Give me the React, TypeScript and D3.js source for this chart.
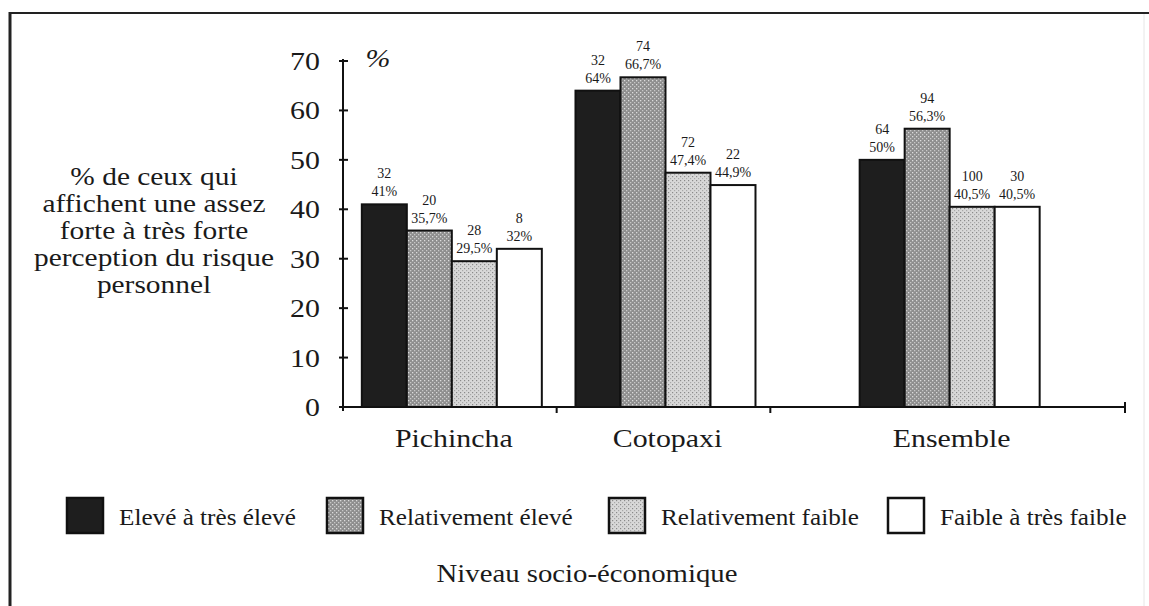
import { useEffect, useRef } from 'react'
import * as d3 from 'd3'

const regions = ['Pichincha', 'Cotopaxi', 'Ensemble']
const levels = ['Elevé à très élevé', 'Relativement élevé', 'Relativement faible', 'Faible à très faible']

// percentages, in region order
const pctEleve = [41, 64, 50]
const pctRelEleve = [35.7, 66.7, 56.3]
const pctRelFaible = [29.5, 47.4, 40.5]
const pctFaible = [32, 44.9, 40.5]

// counts printed above the percentages
const nEleve = [32, 32, 64]
const nRelEleve = [20, 74, 94]
const nRelFaible = [28, 72, 100]
const nFaible = [8, 22, 30]

const yTicks = [0, 10, 20, 30, 40, 50, 60, 70]
const yTitle = ['% de ceux qui', 'affichent une assez', 'forte à très forte', 'perception du risque', 'personnel']
const xTitle = 'Niveau socio-économique'

const W = 1149
const H = 606
const SERIF = '"Liberation Serif", "Times New Roman", serif'
// the scanned type is a bit wider than Times
const STRETCH = 1.15

export default function App() {
  const svgRef = useRef<SVGSVGElement>(null)

  useEffect(() => {
    if (!svgRef.current) return
    const svg = d3.select(svgRef.current)
    svg.selectAll('*').remove()

    const pcts = [pctEleve, pctRelEleve, pctRelFaible, pctFaible]
    const counts = [nEleve, nRelEleve, nRelFaible, nFaible]
    const fills = ['url(#pat-dark)', 'url(#pat-mid)', 'url(#pat-light)', '#fff']

    // wide serif text, placed with a transform so it can be stretched
    const wideText = (x: number, y: number, str: string | number, size: number,
      anchor = 'middle', sx = STRETCH) =>
      svg.append('text')
        .attr('transform', `translate(${x},${y}) scale(${sx},1)`)
        .attr('text-anchor', anchor)
        .style('font-family', SERIF).style('font-size', `${size}px`)
        .attr('fill', '#1a1a1a')
        .text(str)

    // patterns for the shaded bars
    const defs = svg.append('defs')
    const dark = defs.append('pattern').attr('id', 'pat-dark')
      .attr('width', 4).attr('height', 4).attr('patternUnits', 'userSpaceOnUse')
    dark.append('rect').attr('width', 4).attr('height', 4).attr('fill', '#1e1e1e')
    const mid = defs.append('pattern').attr('id', 'pat-mid')
      .attr('width', 4).attr('height', 4).attr('patternUnits', 'userSpaceOnUse')
    mid.append('rect').attr('width', 4).attr('height', 4).attr('fill', '#8e8e8e')
    mid.append('rect').attr('x', 0).attr('y', 0).attr('width', 1.3).attr('height', 1.3).attr('fill', '#dcdcdc')
    mid.append('rect').attr('x', 2).attr('y', 2).attr('width', 1.3).attr('height', 1.3).attr('fill', '#c8c8c8')
    const light = defs.append('pattern').attr('id', 'pat-light')
      .attr('width', 4).attr('height', 4).attr('patternUnits', 'userSpaceOnUse')
    light.append('rect').attr('width', 4).attr('height', 4).attr('fill', '#d8d8d8')
    light.append('rect').attr('x', 0).attr('y', 0).attr('width', 1.2).attr('height', 1.2).attr('fill', '#8a8a8a')
    light.append('rect').attr('x', 2).attr('y', 2).attr('width', 1.2).attr('height', 1.2).attr('fill', '#a8a8a8')

    svg.append('rect').attr('width', W).attr('height', H).attr('fill', '#fff')

    // frame of the scanned figure
    svg.append('line').attr('x1', 10).attr('x2', 10).attr('y1', 12).attr('y2', H)
      .attr('stroke', '#222').attr('stroke-width', 3)
    svg.append('line').attr('x1', 9).attr('x2', W).attr('y1', 13).attr('y2', 13)
      .attr('stroke', '#222').attr('stroke-width', 2)
    svg.append('line').attr('x1', 1144).attr('x2', 1144).attr('y1', 14).attr('y2', H)
      .attr('stroke', '#e6e6e6').attr('stroke-width', 1)

    // scales
    const y = d3.scaleLinear().domain([0, 70]).range([407, 61])
    const bandWeights = [1, 1, 1.66]
    const cum = [0, ...d3.cumsum(bandWeights)]
    const xEdge = d3.scaleLinear().domain([0, cum[cum.length - 1]]).range([343, 1125])
    const centers = regions.map((_, i) => xEdge((cum[i] + cum[i + 1]) / 2) + 2)
    const groupW = 180

    // y axis
    svg.append('line').attr('x1', 343).attr('x2', 343).attr('y1', y(70) - 2).attr('y2', y(0) + 4)
      .attr('stroke', '#111').attr('stroke-width', 2)
    svg.selectAll('.ytick').data(yTicks).enter().append('line')
      .attr('x1', 339).attr('x2', 348).attr('y1', d => y(d)).attr('y2', d => y(d))
      .attr('stroke', '#111').attr('stroke-width', 2)
    yTicks.forEach(t => wideText(320, y(t) + 9, t, 26, 'end'))
    wideText(378, 67, '%', 26).style('font-style', 'italic')

    // y title
    yTitle.forEach((line, i) => wideText(154, 185 + i * 27, line, 24.5, 'middle', 1.2))

    // bars
    regions.forEach((region, ri) => {
      const sub = d3.scaleBand().domain(levels)
        .range([centers[ri] - groupW / 2, centers[ri] + groupW / 2]).padding(0)
      const g = svg.append('g')
      levels.forEach((lvl, li) => {
        const v = pcts[li][ri]
        const x0 = sub(lvl) || 0
        g.append('rect')
          .attr('x', x0).attr('y', y(v))
          .attr('width', sub.bandwidth()).attr('height', y(0) - y(v))
          .attr('fill', fills[li]).attr('stroke', '#111').attr('stroke-width', 2)
      })
      levels.forEach((lvl, li) => {
        const v = pcts[li][ri]
        const cx = (sub(lvl) || 0) + sub.bandwidth() / 2
        const t = g.append('text').attr('text-anchor', 'middle')
          .style('font-family', SERIF).style('font-size', '14px').attr('fill', '#1a1a1a')
        t.append('tspan').attr('x', cx).attr('y', y(v) - 26).text(counts[li][ri])
        t.append('tspan').attr('x', cx).attr('y', y(v) - 8)
          .text(d3.format('.3~')(v).replace('.', ',') + '%')
      })
    })

    // x axis
    svg.append('line').attr('x1', 343).attr('x2', 1125).attr('y1', y(0)).attr('y2', y(0))
      .attr('stroke', '#111').attr('stroke-width', 2)
    svg.selectAll('.xtick').data(cum.slice(1)).enter().append('line')
      .attr('x1', d => xEdge(d)).attr('x2', d => xEdge(d))
      .attr('y1', (d, i) => (i === cum.length - 2 ? y(0) - 5 : y(0))).attr('y2', y(0) + 6)
      .attr('stroke', '#111').attr('stroke-width', 2)
    regions.forEach((r, i) => wideText(centers[i] + 2, 447, r, 26))

    // legend
    const legendX = [67, 327, 609, 888]
    levels.forEach((lvl, li) => {
      svg.append('rect').attr('x', legendX[li]).attr('y', 498)
        .attr('width', 36).attr('height', 35)
        .attr('fill', fills[li]).attr('stroke', '#111').attr('stroke-width', 2.5)
      wideText(legendX[li] + 52, 525, lvl, 22.5, 'start', 1.12)
    })

    wideText(587, 582, xTitle, 25)
  }, [])

  return (
    <svg ref={svgRef} width={W} height={H}
      style={{ position: 'absolute', left: 0, top: 0, display: 'block' }} />
  )
}
